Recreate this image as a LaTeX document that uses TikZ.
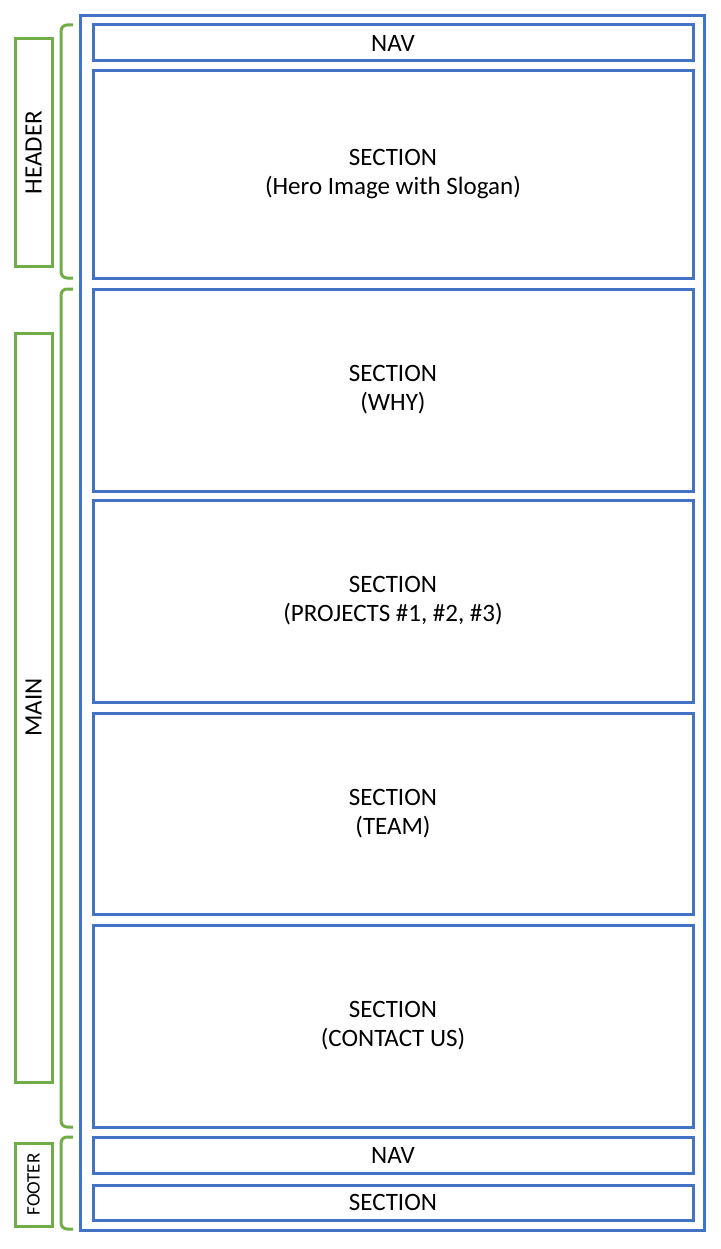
\documentclass[tikz,border=0pt]{standalone}
\usepackage{fontspec}
\setmainfont{Carlito}
\definecolor{boxblue}{HTML}{4472C4}
\definecolor{tagreen}{HTML}{70AD47}
\begin{document}
\begin{tikzpicture}[x=1pt,y=-1pt,
            box/.style={draw=boxblue,line width=3pt,minimum width=600pt,align=center,
                font=\fontsize{25}{29}\selectfont,inner sep=0pt},
            tag/.style={draw=tagreen,line width=3pt,minimum height=37pt,rotate=90,
                font=\fontsize{25}{29}\selectfont,inner sep=0pt},
            brace/.style={draw=tagreen,line width=3pt,rounded corners=6pt}]
        \useasboundingbox (0,0) rectangle (720,1249);

        % Define page frame
        \node[draw=boxblue,line width=3pt,minimum width=624pt,minimum height=1214pt,inner sep=0pt]
            (page) at (392,623) {};

        % Define sections
        \node[box,minimum height=36pt] (nav) at (393,43) {NAV};
        \node[box,minimum height=207pt] (hero) at (393,174.5) {SECTION\\(Hero Image with Slogan)};
        \node[box,minimum height=202pt] (why) at (393,390) {SECTION\\(WHY)};
        \node[box,minimum height=202pt] (projects) at (393,601) {SECTION\\(PROJECTS \#1, \#2, \#3)};
        \node[box,minimum height=201pt] (team) at (393,813.5) {SECTION\\(TEAM)};
        \node[box,minimum height=202pt] (contact) at (393,1026) {SECTION\\(CONTACT US)};
        \node[box,minimum height=36pt] (footnav) at (393,1155) {NAV};
        \node[box,minimum height=35pt] (footsec) at (393,1202.5) {SECTION};

        % Define labels
        \node[tag,minimum width=227pt] (header) at (33.5,152.5) {HEADER};
        \node[tag,minimum width=749pt] (main) at (33.5,707.5) {MAIN};
        \node[tag,minimum width=83pt,font=\fontsize{19}{23}\selectfont] (footer) at (33.5,1184.5) {FOOTER};

        % Draw brackets
        \draw[brace] (73,25) -- (61,25) -- (61,278) -- (73,278);
        \draw[brace] (73,289) -- (61,289) -- (61,1127) -- (73,1127);
        \draw[brace] (73,1137) -- (61,1137) -- (61,1229) -- (73,1229);

        \end{tikzpicture}
\end{document}
